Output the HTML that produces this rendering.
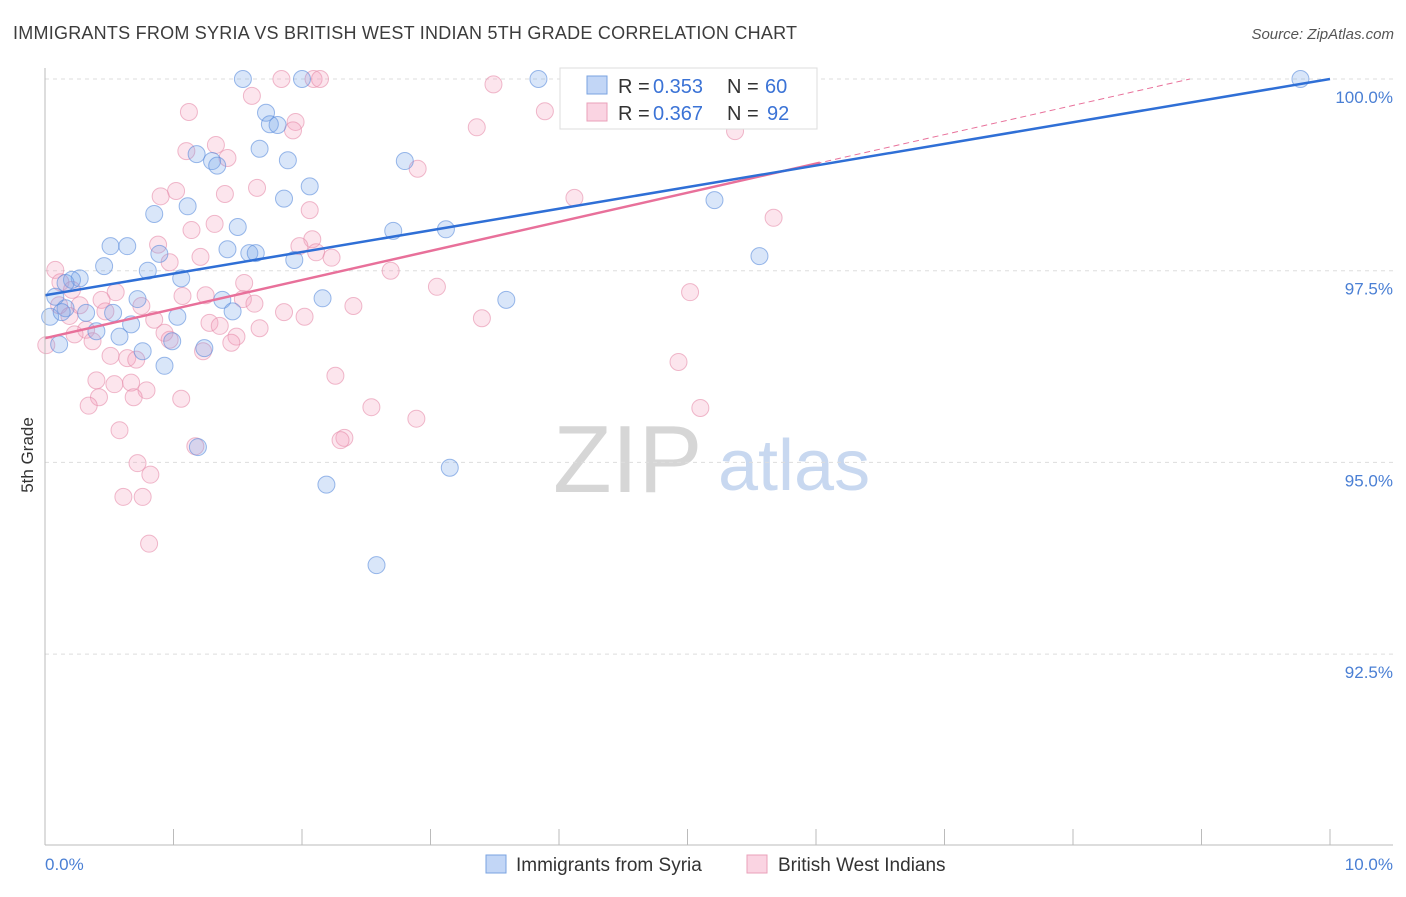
<!DOCTYPE html>
<html><head><meta charset="utf-8"><style>
body{margin:0;background:#fff;width:1406px;height:892px;overflow:hidden;font-family:"Liberation Sans",sans-serif}
svg text{font-family:"Liberation Sans",sans-serif}
</style></head><body>
<svg id="chart" width="1406" height="892" viewBox="0 0 1406 892" xmlns="http://www.w3.org/2000/svg">
<text x="13" y="39" font-size="18" fill="#3c3c3c" textLength="784">IMMIGRANTS FROM SYRIA VS BRITISH WEST INDIAN 5TH GRADE CORRELATION CHART</text>
<text x="1394" y="39" font-size="15" fill="#555" text-anchor="end" font-style="italic">Source: ZipAtlas.com</text>
<text transform="translate(33,455) rotate(-90)" font-size="17" fill="#333" text-anchor="middle">5th Grade</text>
<g><text x="553" y="492" font-size="96" fill="#d6d6d6" font-family="Liberation Serif">ZIP</text><text x="718" y="490" font-size="72" fill="#c8d8f0">atlas</text></g>
<g id="grid"></g><g id="marks"></g><g id="lines"></g>
<line x1="45" y1="68" x2="45" y2="845" stroke="#bbb"/>
<line x1="45" y1="845" x2="1393" y2="845" stroke="#bbb"/>
<text x="45" y="870" font-size="17" fill="#4a7fd4">0.0%</text>
<text x="1393" y="870" font-size="17" fill="#4a7fd4" text-anchor="end">10.0%</text>
<g>
<rect x="560" y="68" width="257" height="61" fill="#fff" stroke="#ddd"/>
<rect x="587" y="76" width="20" height="18" fill="rgba(120,165,235,0.45)" stroke="#7aa3e0"/>
<rect x="587" y="103" width="20" height="18" fill="rgba(245,160,190,0.45)" stroke="#eaa0ba"/>
<text y="93" font-size="20" fill="#333"><tspan x="618">R =</tspan><tspan x="653" fill="#3b73d6">0.353</tspan><tspan x="727">N =</tspan><tspan x="765" fill="#3b73d6">60</tspan></text>
<text y="120" font-size="20" fill="#333"><tspan x="618">R =</tspan><tspan x="653" fill="#3b73d6">0.367</tspan><tspan x="727">N =</tspan><tspan x="767" fill="#3b73d6">92</tspan></text>
</g>
<g>
<rect x="486" y="855" width="20" height="18" fill="rgba(120,165,235,0.45)" stroke="#7aa3e0"/>
<text x="516" y="871" font-size="19" fill="#333">Immigrants from Syria</text>
<rect x="747" y="855" width="20" height="18" fill="rgba(245,160,190,0.45)" stroke="#eaa0ba"/>
<text x="778" y="871" font-size="19" fill="#333">British West Indians</text>
</g>
</svg>
<script>
const yTicks=[100,97.5,95,92.5];
const yTickLabels=["100.0%","97.5%","95.0%","92.5%"];
const xTicks=[0,1,2,3,4,5,6,7,8,9,10];
const syriaX=[1.54,2.00,3.84,5.81,9.77,1.72,1.75,1.81,1.67,1.18,1.30,1.34,1.89,2.80,2.06,1.86,1.11,0.85,5.21,1.50,2.71,3.12,0.51,0.64,1.42,0.89,1.59,1.64,5.56,1.94,0.46,0.80,0.27,0.21,0.16,1.06,2.16,3.59,0.72,1.38,0.08,0.16,0.32,0.53,1.46,1.03,0.67,0.04,0.40,0.58,0.99,0.11,1.24,0.76,0.93,1.19,3.15,2.19,2.58,0.13];
const syriaY=[100,100,100,100,100,99.56,99.41,99.40,99.09,99.02,98.93,98.87,98.94,98.93,98.60,98.44,98.34,98.24,98.42,98.07,98.02,98.04,97.82,97.82,97.78,97.72,97.73,97.73,97.69,97.64,97.56,97.50,97.40,97.38,97.34,97.40,97.14,97.12,97.13,97.12,97.16,97.01,96.95,96.95,96.97,96.90,96.80,96.90,96.71,96.64,96.58,96.54,96.49,96.45,96.26,95.20,94.93,94.71,93.66,96.96];
const bwiX=[1.84,2.09,2.14,4.17,5.30,3.49,1.61,1.12,3.89,1.95,1.93,3.36,5.37,1.33,1.10,1.42,2.90,1.02,0.90,1.40,1.65,4.12,1.32,1.14,2.06,5.67,0.88,2.08,1.98,2.11,2.23,0.97,1.21,0.08,0.12,2.69,1.55,3.05,0.21,0.55,1.07,1.54,1.63,1.25,5.02,0.11,0.27,0.44,0.75,1.86,2.02,2.40,3.40,1.28,0.85,0.19,0.47,1.36,1.67,0.93,0.97,0.32,0.37,0.23,1.49,1.45,1.23,0.01,0.51,0.64,0.71,4.93,2.26,0.40,0.54,0.67,0.79,0.69,0.42,1.06,0.34,2.54,5.10,2.89,0.58,2.33,2.30,1.17,0.72,0.82,0.61,0.76,0.81];
const bwiY=[100,100,100,100,100,99.93,99.78,99.57,99.58,99.44,99.33,99.37,99.32,99.14,99.06,98.97,98.83,98.54,98.47,98.50,98.58,98.45,98.11,98.03,98.29,98.19,97.84,97.91,97.82,97.74,97.67,97.61,97.68,97.51,97.35,97.50,97.34,97.29,97.25,97.22,97.17,97.13,97.07,97.18,97.22,97.05,97.05,97.12,97.04,96.96,96.90,97.04,96.88,96.82,96.86,96.91,96.97,96.78,96.75,96.69,96.60,96.73,96.58,96.67,96.64,96.56,96.45,96.53,96.39,96.36,96.34,96.31,96.13,96.07,96.02,96.04,95.94,95.85,95.85,95.83,95.74,95.72,95.71,95.57,95.42,95.32,95.29,95.21,94.99,94.84,94.55,94.55,93.94];
const syriaTrend=[97.18,100.0];
const bwiTrend=[96.62,100.0];
const bwiTrendEndX=8.91, bwiSolidEndX=6.03;
const NS="http://www.w3.org/2000/svg";
const xs=v=>45+v*128.5;
const ys=v=>79+(100-v)*76.68;
function mk(tag,attrs,parent){const e=document.createElementNS(NS,tag);for(const k in attrs)e.setAttribute(k,attrs[k]);parent.appendChild(e);return e;}
const grid=document.getElementById('grid'),marks=document.getElementById('marks'),lines=document.getElementById('lines');
yTicks.forEach((t,i)=>{
 const l=mk('line',{x1:45,x2:1393,y1:ys(t),y2:ys(t),stroke:'#ddd','stroke-dasharray':'4,4'},grid);
 
 
 const tx=mk('text',{x:1393,y:ys(t)+24,'font-size':17,fill:'#4a7fd4','text-anchor':'end'},grid);
 tx.textContent=yTickLabels[i];
 
 
});
xTicks.forEach(t=>{
 const l=mk('line',{x1:xs(t),x2:xs(t),y1:829,y2:845,stroke:'#bbb'},grid);
 
 
});
function pts(X,Y,fill,stroke,name){X.forEach((x,i)=>{
 const c=mk('circle',{cx:xs(x),cy:ys(Y[i]),r:8.5,fill:fill,stroke:stroke,'stroke-width':1},marks);
 
 
});}
pts(bwiX,bwiY,'rgba(245,160,190,0.28)','rgba(230,140,170,0.6)','bwi-point');
pts(syriaX,syriaY,'rgba(120,165,235,0.28)','rgba(90,140,220,0.6)','syria-point');
const bs=(bwiTrend[1]-bwiTrend[0])/bwiTrendEndX;
let l1=mk('line',{x1:xs(0),y1:ys(bwiTrend[0]),x2:xs(bwiTrendEndX),y2:ys(bwiTrend[1]),stroke:'#e8709a','stroke-width':1,'stroke-dasharray':'6,4'},lines);


let l2=mk('line',{x1:xs(0),y1:ys(bwiTrend[0]),x2:xs(bwiSolidEndX),y2:ys(bwiTrend[0]+bs*bwiSolidEndX),stroke:'#e8709a','stroke-width':2.5},lines);


let l3=mk('line',{x1:xs(0),y1:ys(syriaTrend[0]),x2:xs(10),y2:ys(syriaTrend[1]),stroke:'#2f6fd6','stroke-width':2.5},lines);


</script>
</body></html>
